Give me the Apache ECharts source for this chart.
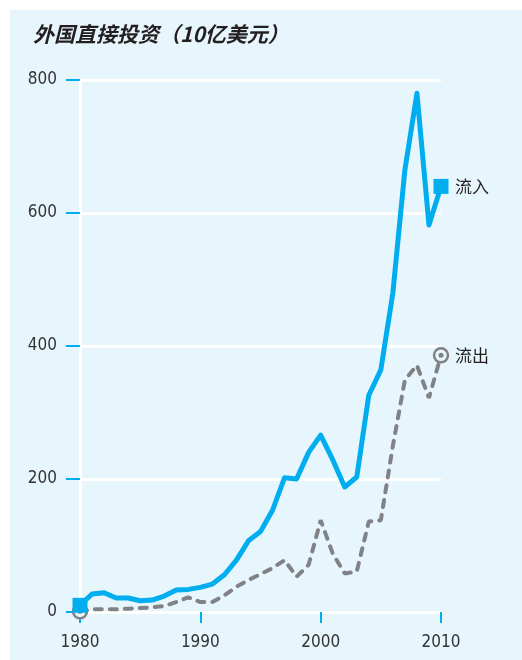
<!DOCTYPE html>
<html><head><meta charset="utf-8">
<script src="https://cdn.jsdelivr.net/npm/echarts@6/dist/echarts.min.js"></script>
<style>html,body{margin:0;padding:0;background:#fff}#c{width:522px;height:660px}</style>
</head><body><div id="c"></div>
<script>
const years = [1980,1981,1982,1983,1984,1985,1986,1987,1988,1989,1990,1991,1992,1993,1994,1995,1996,1997,1998,1999,2000,2001,2002,2003,2004,2005,2006,2007,2008,2009,2010];
const inflow = [10,27,29,21,21,17,18,24,33,34,37,42,56,78,107,121,153,202,200,240,266,229,188,203,326,364,480,665,780,582,640];
const outflow = [1,4,4,4,5,6,7,9,15,22,15,15,25,38,48,57,66,78,53,71,138,88,58,61,136,138,250,349,371,322,386];
const yTicks = [0,200,400,600,800];
const xTicks = [1980,1990,2000,2010];
const seriesNames = ['流入','流出'];
const titleText = '外国直接投资（10亿美元）';

const BLUE = '#00aeef', GRAY = '#808285', TXT = '#231f20', BG = '#e7f6fd';
const NUMFONT = '"Liberation Sans Narrow", "DejaVu Sans Condensed", sans-serif';
const inData = years.map((y,i)=>[y,inflow[i]]);
const outData = years.map((y,i)=>[y,outflow[i]]);
const last = years.length-1;
const ends = d => [d[0], d[last]];

const chart = echarts.init(document.getElementById('c'), null, {renderer:'canvas'});
chart.setOption({
  animation:false,
  backgroundColor:'#ffffff',
  graphic:[
    {type:'rect', z:-10, shape:{x:10,y:10,width:512,height:650}, style:{fill:BG}},
    {type:'text', left:33, top:24, style:{text:titleText, fill:TXT, font:'italic bold 21px "Noto Sans CJK SC", sans-serif'}}
  ],
  grid:{left:80, right:81, top:80, bottom:48},
  xAxis:{
    type:'value', min:xTicks[0], max:xTicks[xTicks.length-1], interval:10,
    axisLine:{show:true, lineStyle:{color:'#ffffff', width:3}},
    axisTick:{show:true, length:11, lineStyle:{color:BLUE, width:2}},
    axisLabel:{color:'#333', fontFamily:NUMFONT, fontSize:17, margin:22, formatter:v=>String(v)},
    splitLine:{show:false}
  },
  yAxis:{
    type:'value', min:yTicks[0], max:yTicks[yTicks.length-1], interval:200,
    axisLine:{show:true, lineStyle:{color:'#ffffff', width:3}},
    axisTick:{show:true, length:14, lineStyle:{color:BLUE, width:2}},
    axisLabel:{color:'#333', fontFamily:NUMFONT, fontSize:17, margin:23, formatter:v=>String(v)},
    splitLine:{show:true, lineStyle:{color:'#ffffff', width:3}}
  },
  series:[
    {name:seriesNames[1], type:'line', data:outData, symbol:'none', z:3,
     lineStyle:{color:GRAY, width:4, type:[7,8], cap:'round'},
     endLabel:{show:true, formatter:seriesNames[1], color:TXT, fontSize:17, fontFamily:'"Noto Sans CJK SC", sans-serif', distance:14}},
    {type:'scatter', data:ends(outData), symbol:'circle', symbolSize:14, z:4,
     itemStyle:{color:BG, borderColor:GRAY, borderWidth:2.5, opacity:1}},
    {type:'scatter', data:ends(outData), symbol:'circle', symbolSize:5, z:5,
     itemStyle:{color:GRAY, opacity:1}},
    {name:seriesNames[0], type:'line', data:inData, symbol:'none', z:6,
     lineStyle:{color:BLUE, width:5, join:'round'},
     endLabel:{show:true, formatter:seriesNames[0], color:TXT, fontSize:17, fontFamily:'"Noto Sans CJK SC", sans-serif', distance:14}},
    {type:'scatter', data:ends(inData), symbol:'rect', symbolSize:15, z:7,
     itemStyle:{color:BLUE, opacity:1}}
  ]
});
</script></body></html>
